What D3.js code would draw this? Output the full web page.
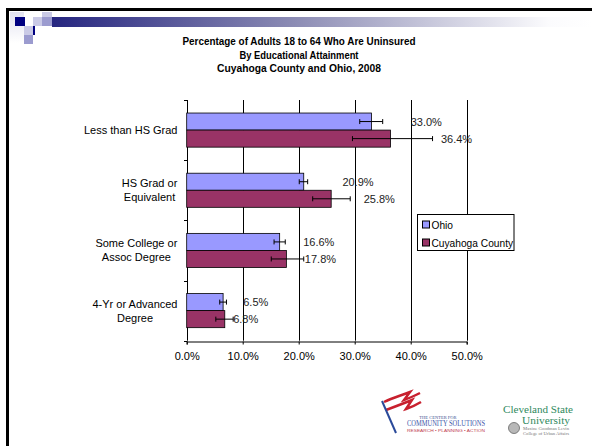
<!DOCTYPE html>
<html>
<head>
<meta charset="utf-8">
<script src="https://cdn.jsdelivr.net/npm/d3@7"></script>
<style>
  body { margin: 0; background: #fff; }
  svg { display: block; }
  .catText { font-family: "Liberation Sans", Arial, sans-serif; font-size: 11px; fill: #000; }
  .legText { font-family: "Liberation Sans", Arial, sans-serif; font-size: 10.2px; fill: #000; }
  .valText { font-family: "Liberation Sans", Arial, sans-serif; font-size: 11px; fill: #222; }
  .tickText { font-family: "Liberation Sans", Arial, sans-serif; font-size: 11px; fill: #000; }
  .titleText { font-family: "Liberation Sans", sans-serif; font-size: 11px; font-weight: bold; fill: #000; }
</style>
</head>
<body>
<div id="chart"></div>
<script>
// chart data
var categories = [
    ["Less than HS Grad"],
    ["HS Grad or", "Equivalent"],
    ["Some College or", "Assoc Degree"],
    ["4-Yr or Advanced", "Degree"]
];
var seriesNames = ["Ohio", "Cuyahoga County"];
var ohioValues = [33.0, 20.9, 16.6, 6.5];
var cuyahogaValues = [36.4, 25.8, 17.8, 6.8];
var ohioErrLow = [30.9, 20.1, 15.6, 5.9];
var ohioErrHigh = [35.0, 21.6, 17.6, 7.1];
var cuyahogaErrLow = [29.6, 22.5, 15.1, 5.2];
var cuyahogaErrHigh = [43.9, 29.2, 20.9, 8.3];
var xTicks = [0, 10, 20, 30, 40, 50];
var titleLines = [
    "Percentage of Adults 18 to 64 Who Are Uninsured",
    "By Educational Attainment",
    "Cuyahoga County and Ohio, 2008"
];

var svgWidth = 592;
var svgHeight = 446;

var svg = d3.select("#chart")
    .append("svg")
    .attr("width", svgWidth)
    .attr("height", svgHeight);

// slide template decoration
var defs = svg.append("defs");
var grad = defs.append("linearGradient").attr("id", "bandGrad");
grad.append("stop").attr("offset", "0%").attr("stop-color", "#262680");
grad.append("stop").attr("offset", "45%").attr("stop-color", "#8c8cb4");
grad.append("stop").attr("offset", "92%").attr("stop-color", "#fbfbfd");
grad.append("stop").attr("offset", "100%").attr("stop-color", "#ffffff");
var fade = defs.append("linearGradient").attr("id", "fadeGrad")
    .attr("x1", "0").attr("x2", "0").attr("y1", "0").attr("y2", "1");
fade.append("stop").attr("offset", "0%").attr("stop-color", "#e2e2f0");
fade.append("stop").attr("offset", "100%").attr("stop-color", "#ffffff");

svg.append("rect").attr("x", 52).attr("y", 17).attr("width", 540).attr("height", 10).attr("fill", "url(#bandGrad)");
svg.append("rect").attr("x", 10).attr("y", 12).attr("width", 14).attr("height", 31).attr("fill", "url(#fadeGrad)");
svg.append("rect").attr("x", 15).attr("y", 17).attr("width", 10).attr("height", 9).attr("fill", "#000080");
svg.append("rect").attr("x", 33).attr("y", 17).attr("width", 9).attr("height", 9).attr("fill", "#cacae6");
svg.append("rect").attr("x", 42).attr("y", 12).attr("width", 10).attr("height", 5).attr("fill", "#cacae6");
svg.append("rect").attr("x", 42).attr("y", 17).attr("width", 10).attr("height", 9).attr("fill", "#9b9bcf");
svg.append("rect").attr("x", 24).attr("y", 26).attr("width", 9).attr("height", 9).attr("fill", "#cacae6");
svg.append("rect").attr("x", 33).attr("y", 26).attr("width", 2).attr("height", 9).attr("fill", "#000080");
svg.append("rect").attr("x", 24).attr("y", 35).attr("width", 9).attr("height", 9).attr("fill", "#9b9bcf");

// slide frame
svg.append("line").attr("x1", 6).attr("x2", 592).attr("y1", 9.5).attr("y2", 9.5)
    .attr("stroke", "#000").attr("stroke-width", 3);
svg.append("line").attr("x1", 7.5).attr("x2", 7.5).attr("y1", 8).attr("y2", 446)
    .attr("stroke", "#000").attr("stroke-width", 3);

// title (squeezed to the narrow width of the original face)
var titleWidths = [233, 119, 164];
svg.selectAll(".titleText")
    .data(titleLines)
    .enter()
    .append("text")
    .attr("class", "titleText")
    .attr("x", 299)
    .attr("y", (d, i) => 45 + i * 13.5)
    .attr("text-anchor", "middle")
    .attr("textLength", (d, i) => titleWidths[i])
    .attr("lengthAdjust", "spacingAndGlyphs")
    .text(d => d);

// plot area
var plot = { left: 186.7, right: 466.7, top: 100, bottom: 340.7 };

var xScale = d3.scaleLinear()
    .domain([0, 50])
    .range([plot.left, plot.right]);

var yScale = d3.scaleBand()
    .domain(d3.range(categories.length))
    .range([plot.top, plot.bottom])
    .paddingInner(0.433)
    .paddingOuter(0.2165);

var ySub = d3.scaleBand()
    .domain(seriesNames)
    .range([0, yScale.bandwidth()]);

var colors = d3.scaleOrdinal()
    .domain(seriesNames)
    .range(["#9999ff", "#993366"]);

// gridlines
svg.append("g")
    .selectAll("line")
    .data(xTicks.slice(1))
    .enter()
    .append("line")
    .attr("x1", d => Math.round(xScale(d)) + 0.5)
    .attr("x2", d => Math.round(xScale(d)) + 0.5)
    .attr("y1", plot.top)
    .attr("y2", plot.bottom)
    .attr("stroke", "#000")
    .attr("stroke-width", 1);

// bottom axis
var bottomAxis = d3.axisBottom(xScale)
    .tickValues(xTicks)
    .tickSize(3)
    .tickPadding(8)
    .tickFormat(d => d.toFixed(1) + "%");

var xAxisG = svg.append("g")
    .attr("transform", `translate(0, ${Math.round(plot.bottom) + 0.5})`)
    .call(bottomAxis);
xAxisG.select(".domain").attr("stroke", "#000");
xAxisG.selectAll("text").attr("class", "tickText");
xAxisG.attr("font-size", null).attr("font-family", null);

// left axis with ticks between categories
var catEdge = d3.scaleLinear().domain([0, categories.length]).range([plot.top, plot.bottom]);
var leftG = svg.append("g");
leftG.append("line")
    .attr("x1", Math.round(plot.left) + 0.5).attr("x2", Math.round(plot.left) + 0.5)
    .attr("y1", plot.top).attr("y2", plot.bottom)
    .attr("stroke", "#000");
leftG.selectAll(".ytick")
    .data(d3.range(categories.length + 1))
    .enter()
    .append("line")
    .attr("x1", Math.round(plot.left) - 3).attr("x2", Math.round(plot.left) + 0.5)
    .attr("y1", d => Math.round(catEdge(d)) + 0.5)
    .attr("y2", d => Math.round(catEdge(d)) + 0.5)
    .attr("stroke", "#000");

// category labels (multi-line, centered block, right aligned)
categories.forEach(function(lines, i) {
    var cy = yScale(i) + yScale.bandwidth() / 2;
    var t = svg.append("text")
        .attr("class", "catText")
        .attr("text-anchor", "middle");
    var lineH = 14;
    var y0 = cy - (lines.length - 1) * lineH / 2 + 4;
    lines.forEach(function(l, j) {
        t.append("tspan").attr("x", 0).attr("y", y0 + j * lineH).text(l);
    });
    var w = t.node().getBBox().width;
    t.selectAll("tspan").attr("x", 177.5 - w / 2);
});

// bars
var rows = [];
categories.forEach(function(c, i) {
    rows.push({ cat: i, series: "Ohio", value: ohioValues[i], lo: ohioErrLow[i], hi: ohioErrHigh[i] });
    rows.push({ cat: i, series: "Cuyahoga County", value: cuyahogaValues[i], lo: cuyahogaErrLow[i], hi: cuyahogaErrHigh[i] });
});

var barY = d => yScale(d.cat) + ySub(d.series);

svg.append("g")
    .selectAll("rect")
    .data(rows)
    .enter()
    .append("rect")
    .attr("x", xScale(0))
    .attr("y", d => barY(d))
    .attr("width", d => xScale(d.value) - xScale(0))
    .attr("height", ySub.bandwidth())
    .attr("fill", d => colors(d.series))
    .attr("stroke", "#000")
    .attr("stroke-width", 0.8);

// error bars
var errG = svg.append("g").attr("stroke", "#000").attr("stroke-width", 1);
errG.selectAll(".errLine")
    .data(rows)
    .enter()
    .append("line")
    .attr("x1", d => xScale(d.lo))
    .attr("x2", d => xScale(d.hi))
    .attr("y1", d => barY(d) + ySub.bandwidth() / 2)
    .attr("y2", d => barY(d) + ySub.bandwidth() / 2);
["lo", "hi"].forEach(function(k) {
    errG.selectAll(".cap" + k)
        .data(rows)
        .enter()
        .append("line")
        .attr("x1", d => xScale(d[k]))
        .attr("x2", d => xScale(d[k]))
        .attr("y1", d => barY(d) + ySub.bandwidth() / 2 - 2.5)
        .attr("y2", d => barY(d) + ySub.bandwidth() / 2 + 2.5);
});

// value labels, placed where they sit in the original (in % units)
var labelX = {
    "Ohio": [40.0, 27.8, 20.8, 10.1],
    "Cuyahoga County": [45.4, 31.6, 21.1, 8.3]
};
svg.append("g")
    .selectAll("text")
    .data(rows)
    .enter()
    .append("text")
    .attr("class", "valText")
    .attr("x", d => xScale(labelX[d.series][d.cat]))
    .attr("y", d => barY(d) + ySub.bandwidth() / 2 + 4)
    .text(d => d.value.toFixed(1) + "%");

// legend
var legend = svg.append("g").attr("transform", "translate(417.5, 214.5)");
legend.append("rect")
    .attr("width", 96.5).attr("height", 36)
    .attr("fill", "#fff").attr("stroke", "#000");
seriesNames.forEach(function(name, i) {
    legend.append("rect")
        .attr("x", 5).attr("y", 6.5 + i * 18)
        .attr("width", 7).attr("height", 7)
        .attr("fill", colors(name)).attr("stroke", "#000");
    legend.append("text")
        .attr("class", "legText")
        .attr("x", 14)
        .attr("y", 14 + i * 18)
        .text(name);
});

// logos (approximate)
var logo1 = svg.append("g");
logo1.append("path")
    .attr("d", "M384,402 C392,398 400,396 410,392 L404,400 C410,398 414,396 420,393")
    .attr("fill", "none").attr("stroke", "#c8202e").attr("stroke-width", 2.5);
logo1.append("path")
    .attr("d", "M386,410 C394,407 402,404 412,400 L406,409 C412,407 416,405 421,402")
    .attr("fill", "none").attr("stroke", "#c8202e").attr("stroke-width", 2.5);
logo1.append("line")
    .attr("x1", 382).attr("y1", 401).attr("x2", 396).attr("y2", 433)
    .attr("stroke", "#2a4a9a").attr("stroke-width", 2);
logo1.append("text")
    .attr("x", 438).attr("y", 419).attr("text-anchor", "middle")
    .attr("font-family", "Liberation Serif, serif").attr("font-size", 4.5).attr("fill", "#3a4f8f")
    .text("THE CENTER FOR");
logo1.append("text")
    .attr("x", 446).attr("y", 426).attr("text-anchor", "middle")
    .attr("font-family", "Liberation Serif, serif").attr("font-size", 7.5).attr("fill", "#3a55a8")
    .attr("textLength", 78).attr("lengthAdjust", "spacingAndGlyphs")
    .text("COMMUNITY SOLUTIONS");
logo1.append("text")
    .attr("x", 446).attr("y", 432).attr("text-anchor", "middle")
    .attr("font-family", "Liberation Sans, sans-serif").attr("font-size", 3.5).attr("fill", "#c04050")
    .attr("textLength", 78).attr("lengthAdjust", "spacingAndGlyphs")
    .text("RESEARCH • PLANNING • ACTION");

var logo2 = svg.append("g");
logo2.append("text")
    .attr("x", 503).attr("y", 413)
    .attr("font-family", "Liberation Serif, serif").attr("font-size", 10).attr("fill", "#2f8a5e")
    .attr("textLength", 70).attr("lengthAdjust", "spacingAndGlyphs")
    .text("Cleveland State");
logo2.append("text")
    .attr("x", 522).attr("y", 424)
    .attr("font-family", "Liberation Serif, serif").attr("font-size", 10).attr("fill", "#2f8a5e")
    .attr("textLength", 48).attr("lengthAdjust", "spacingAndGlyphs")
    .text("University");
logo2.append("circle").attr("cx", 514).attr("cy", 428).attr("r", 5.5)
    .attr("fill", "#b8b8b8").attr("stroke", "#666").attr("stroke-width", 0.8);
logo2.append("text")
    .attr("x", 523).attr("y", 430)
    .attr("font-family", "Liberation Serif, serif").attr("font-size", 4).attr("fill", "#777")
    .attr("textLength", 46).attr("lengthAdjust", "spacingAndGlyphs")
    .text("Maxine Goodman Levin");
logo2.append("text")
    .attr("x", 523).attr("y", 435)
    .attr("font-family", "Liberation Serif, serif").attr("font-size", 4).attr("fill", "#777")
    .attr("textLength", 46).attr("lengthAdjust", "spacingAndGlyphs")
    .text("College of Urban Affairs");
</script>
</body>
</html>
